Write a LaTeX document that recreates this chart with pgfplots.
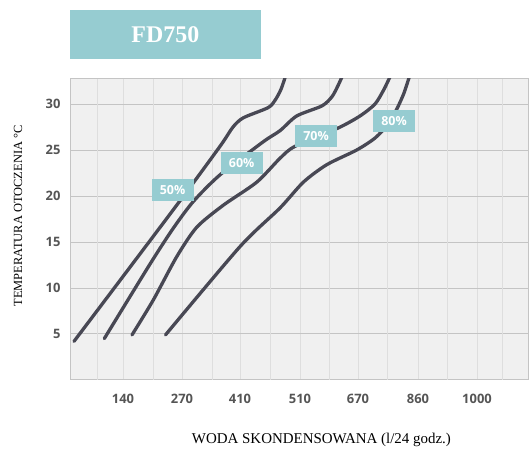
\documentclass[border=0pt]{standalone}
\usepackage{fontspec}
\setmainfont{Liberation Serif}
\newfontfamily\sansbold{Open Sans}
\usepackage{pgfplots}
\pgfplotsset{compat=1.18}
\definecolor{boxteal}{RGB}{150,204,209}
\definecolor{curve}{RGB}{72,72,84}
\definecolor{plotbg}{RGB}{240,240,240}
\definecolor{gridd}{RGB}{196,196,196}
\definecolor{gridl}{RGB}{222,222,222}
\definecolor{ticktxt}{RGB}{85,85,85}
\tikzset{lbl/.style={fill=boxteal, text=white, inner sep=0,
    font=\sansbold\bfseries\fontsize{12.5}{12.5}\selectfont,
    minimum width=42bp, minimum height=22bp},
  crv/.style={draw=curve, line width=3.3bp, line cap=round, line join=round,
    smooth, tension=0.45, mark=none}}

\begin{document}
\begin{tikzpicture}[x=1bp,y=1bp]
\useasboundingbox (0,0) rectangle (529,453);
% title box
\node[fill=boxteal, minimum width=190.7bp, minimum height=49.3bp, inner sep=0,
  text=white, font=\fontsize{24}{24}\selectfont\bfseries] at (165.35,418.35) {FD750};
\begin{axis}[
  at={(70bp,73bp)}, anchor=south west,
  scale only axis, width=458bp, height=301bp,
  xmin=0, xmax=458, ymin=0, ymax=32.72,
  axis background/.style={fill=plotbg},
  axis line style={draw=gridd, line width=1bp},
  xtick={53,112,170,230,288,348,407},
  xticklabels={140,270,410,510,670,860,1000},
  ytick={5,10,15,20,25,30},
  extra x ticks={27,83,142,200,259,317,377,432},
  extra x tick labels={},
  extra x tick style={major grid style={draw=gridd, line width=1bp}},
  xmajorgrids, ymajorgrids,
  x grid style={draw=gridl, line width=1bp},
  y grid style={draw=gridd, line width=1bp},
  major tick length=0, tick style={draw=none},
  /pgf/number format/assume math mode=true,
  ticklabel style={font=\sansbold\bfseries\fontsize{13}{13}\selectfont, text=ticktxt},
  xticklabel style={yshift=-11bp},
  yticklabel style={xshift=-6bp},
  xlabel={WODA SKONDENSOWANA (l/24 godz.)},
  ylabel={TEMPERATURA OTOCZENIA °C},
  xlabel style={at={(axis description cs:0.549,-0.199)}, anchor=center,
    font=\fontsize{15}{15}\selectfont},
  ylabel style={at={(axis description cs:-0.1135,0.545)}, anchor=center,
    font=\fontsize{12.5}{12.5}\selectfont},
]
% 50%
\addplot[crv] coordinates {(4,4.2) (106.7,19.0) (150,25.4) (163,27.5)
  (173.3,28.5) (198,29.6) (205,30.4) (211,31.6) (216,33.2)};
% 60%
\addplot[crv] coordinates {(34.3,4.5) (80,12.6) (103.3,16.5) (123.3,19.4)
  (150,22.3) (193.3,25.9) (210,27.1) (226.7,28.7) (252,29.8)
  (262,30.8) (268,32.0) (273,33.2)};
% 70%
\addplot[crv] coordinates {(62,4.9) (83.3,8.7) (106.7,13.4) (126.7,16.6)
  (153.3,19.0) (186.7,21.5) (210,24.1) (225,25.4) (268.3,27.4) (290,28.7)
  (305,30.0) (314,31.6) (321,33.2)};
% 80%
\addplot[crv] coordinates {(95.5,4.9) (170,14.5) (210,18.7) (233.3,21.5)
  (256.7,23.4) (286.7,25.0) (305,26.3) (318,27.8) (327,29.5) (334,31.2)
  (340,33.2)};
\node[lbl] at (axis cs:102.5,20.65) {50\%};
\node[lbl] at (axis cs:171.7,23.6) {60\%};
\node[lbl] at (axis cs:246,26.5) {70\%};
\node[lbl] at (axis cs:324,28.1) {80\%};
\end{axis}
\end{tikzpicture}
\end{document}
